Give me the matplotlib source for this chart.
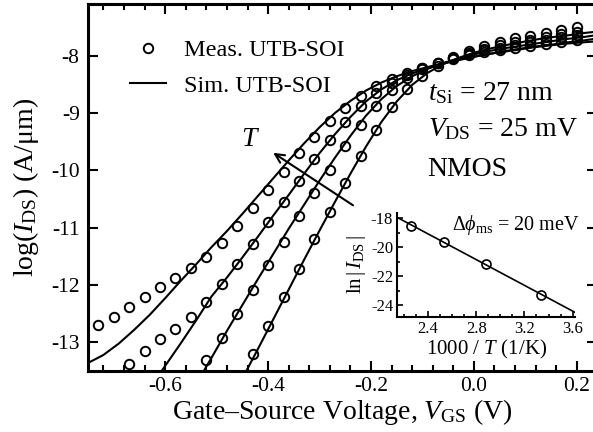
import numpy as np
import matplotlib
matplotlib.use('Agg')
import matplotlib.pyplot as plt
from matplotlib.ticker import MultipleLocator

nan = np.nan

# measured transfer curves, log10(I_DS) in A/um
vgs_meas = [-0.73, -0.70, -0.67, -0.64, -0.61, -0.58, -0.55, -0.52, -0.49, -0.46,
            -0.43, -0.40, -0.37, -0.34, -0.31, -0.28, -0.25, -0.22, -0.19, -0.16,
            -0.13, -0.10, -0.07, -0.04, -0.01, 0.02, 0.05, 0.08, 0.11, 0.14,
            0.17, 0.20]
meas_450 = [-12.70, -12.55, -12.39, -12.21, -12.04, -11.87, -11.71, -11.51, -11.26, -10.97,
            -10.65, -10.34, -10.03, -9.70, -9.42, -9.14, -8.91, -8.71, -8.53, -8.41,
            -8.30, -8.21, -8.13, -8.06, -7.99, -7.94, -7.91, -7.87, -7.83, -7.79,
            -7.76, -7.72]
meas_400 = [nan, nan, -13.38, -13.15, -12.94, -12.76, -12.56, -12.30, -11.99, -11.64,
            -11.28, -10.91, -10.56, -10.19, -9.81, -9.48, -9.16, -8.88, -8.65, -8.47,
            -8.33, -8.22, -8.13, -8.05, -7.97, -7.91, -7.86, -7.81, -7.77, -7.72,
            -7.68, -7.64]
meas_350 = [nan, nan, nan, nan, nan, nan, nan, -13.31, -12.92, -12.51,
            -12.09, -11.66, -11.25, -10.80, -10.39, -9.99, -9.58, -9.21, -8.88, -8.60,
            -8.39, -8.24, -8.12, -8.03, -7.95, -7.88, -7.82, -7.77, -7.72, -7.67,
            -7.63, -7.58]
meas_300 = [nan, nan, nan, nan, nan, nan, nan, nan, nan, nan,
            -13.20, -12.72, -12.21, -11.72, -11.20, -10.72, -10.23, -9.75, -9.30, -8.90,
            -8.58, -8.36, -8.18, -8.04, -7.92, -7.83, -7.76, -7.70, -7.65, -7.60,
            -7.55, -7.50]

# simulated curves
vgs_sim = [-0.75, -0.72, -0.69, -0.66, -0.63, -0.60, -0.57, -0.54, -0.51, -0.48,
           -0.45, -0.42, -0.39, -0.36, -0.33, -0.30, -0.27, -0.24, -0.21, -0.18,
           -0.15, -0.12, -0.09, -0.06, -0.03, 0.00, 0.03, 0.06, 0.09, 0.12,
           0.15, 0.18, 0.21, 0.24]
sim_450 = [-13.36, -13.22, -13.02, -12.78, -12.52, -12.23, -11.93, -11.64, -11.34, -11.06,
           -10.76, -10.45, -10.14, -9.83, -9.53, -9.25, -9.00, -8.79, -8.61, -8.47,
           -8.36, -8.27, -8.20, -8.13, -8.07, -8.02, -7.97, -7.93, -7.89, -7.85,
           -7.82, -7.79, -7.77, -7.75]
sim_400 = [nan, nan, nan, nan, -13.80, -13.41, -13.02, -12.62, -12.20, -11.87,
           -11.52, -11.16, -10.79, -10.43, -10.06, -9.70, -9.37, -9.07, -8.80, -8.59,
           -8.43, -8.31, -8.22, -8.14, -8.08, -8.02, -7.97, -7.92, -7.88, -7.84,
           -7.81, -7.77, -7.74, -7.70]
sim_350 = [nan, nan, nan, nan, nan, nan, nan, -13.73, -13.27, -12.80,
           -12.35, -11.90, -11.46, -11.02, -10.60, -10.18, -9.78, -9.40, -9.05, -8.76,
           -8.53, -8.36, -8.23, -8.13, -8.05, -7.98, -7.92, -7.87, -7.83, -7.79,
           -7.75, -7.71, -7.68, -7.64]
sim_300 = [nan, nan, nan, nan, nan, nan, nan, nan, nan, nan,
           -13.63, -13.12, -12.60, -12.08, -11.56, -11.05, -10.55, -10.06, -9.59, -9.16,
           -8.80, -8.51, -8.30, -8.15, -8.04, -7.95, -7.88, -7.82, -7.77, -7.72,
           -7.68, -7.65, -7.61, -7.58]

# Arrhenius plot for the inset
inv_temp = [2.26, 2.53, 2.88, 3.34]
ln_ids = [-18.50, -19.64, -21.17, -23.30]
fit_x = [2.145, 3.62]
fit_y = [-17.93, -24.50]

plt.rcParams['font.family'] = 'Liberation Serif'
plt.rcParams['mathtext.fontset'] = 'custom'
plt.rcParams['mathtext.rm'] = 'Liberation Serif'
plt.rcParams['mathtext.it'] = 'Liberation Serif:italic'
plt.rcParams['axes.unicode_minus'] = False

fig = plt.figure(figsize=(5.93, 4.32), dpi=100)
ax = fig.add_axes([0.1484, 0.1412, 0.859, 0.8495])

for sim, meas in [(sim_450, meas_450), (sim_400, meas_400),
                  (sim_350, meas_350), (sim_300, meas_300)]:
    ax.plot(vgs_sim, sim, '-', color='k', lw=1.5)
    ax.plot(vgs_meas, meas, 'o', mfc='none', mec='k', ms=6.8, mew=1.4)

h_meas, = ax.plot([], [], 'o', mfc='none', mec='k', ms=6.8, mew=1.4)
h_sim, = ax.plot([], [], '-', color='k', lw=1.5)
ax.legend([h_meas, h_sim], ['Meas. UTB-SOI', 'Sim. UTB-SOI'], loc='upper left',
          bbox_to_anchor=(0.082, 0.904), frameon=False, fontsize=17.5,
          handlelength=1.5, handletextpad=0.75, labelspacing=0.55,
          borderpad=0, borderaxespad=0)

ax.set_xlim(-0.75, 0.24)
ax.set_ylim(-13.5, -7.1)
ax.xaxis.set_major_locator(MultipleLocator(0.2))
ax.xaxis.set_minor_locator(MultipleLocator(0.04))
ax.yaxis.set_major_locator(MultipleLocator(1))
ax.tick_params(which='both', direction='in', top=True, right=True, width=1.5,
               labelsize=15.5)
ax.tick_params(which='major', length=7.5, pad=4)
ax.tick_params(axis='y', which='major', pad=6)
ax.tick_params(which='minor', length=4)
for s in ax.spines.values():
    s.set_linewidth(2.2)

ax.set_xlabel(r'Gate–Source Voltage, $V_{\mathrm{GS}}$ (V)', fontsize=20)
ax.set_ylabel(r'log($I_{\mathrm{DS}}$) (A/μm)', fontsize=20)
ax.xaxis.set_label_coords(0.5, -0.07)
ax.yaxis.set_label_coords(-0.093, 0.5)

ax.text(-0.09, -8.77, r'$t_{\mathrm{Si}}$ = 27 nm', fontsize=20, va='baseline')
ax.text(-0.09, -9.40, r'$V_{\mathrm{DS}}$ = 25 mV', fontsize=20, va='baseline')
ax.text(-0.09, -10.10, 'NMOS', fontsize=20, va='baseline')

ax.annotate('', xy=(-0.39, -9.695), xytext=(-0.235, -10.61),
            arrowprops=dict(arrowstyle='->', color='k', lw=1.5, mutation_scale=16,
                            shrinkA=0, shrinkB=0))
ax.text(-0.4335, -9.46, '$T$', fontsize=20, ha='center', va='center')

# inset: ln|I_DS| against 1000/T
axin = fig.add_axes([0.670, 0.2669, 0.2997, 0.2407])
axin.patch.set_alpha(0)
axin.plot(fit_x, fit_y, '-', color='k', lw=1.2)
axin.plot(inv_temp, ln_ids, 'o', mfc='none', mec='k', ms=6.5, mew=1.2)
axin.set_xlim(2.145, 3.62)
axin.set_ylim(-24.8, -17.6)
axin.spines['top'].set_visible(False)
axin.spines['right'].set_visible(False)
for s in ['left', 'bottom']:
    axin.spines[s].set_linewidth(1.5)
axin.xaxis.set_major_locator(MultipleLocator(0.4))
axin.xaxis.set_minor_locator(MultipleLocator(0.1))
axin.yaxis.set_major_locator(MultipleLocator(2))
axin.yaxis.set_minor_locator(MultipleLocator(1))
axin.tick_params(which='both', direction='in', width=1.2, labelsize=12, pad=3)
axin.tick_params(which='major', length=4)
axin.tick_params(which='minor', length=2.5)
axin.set_xlabel('1000 / $T$ (1/K)', fontsize=15, labelpad=1)
axin.set_ylabel(r'ln$\,|\,I_{\mathrm{DS}}\,|$', fontsize=15, labelpad=2)
axin.text(0.31, 0.88, r'$\Delta\phi_{\mathrm{ms}}$ = 20 meV', fontsize=14.5,
          transform=axin.transAxes, va='center')

fig.savefig('out.png', dpi=100)
